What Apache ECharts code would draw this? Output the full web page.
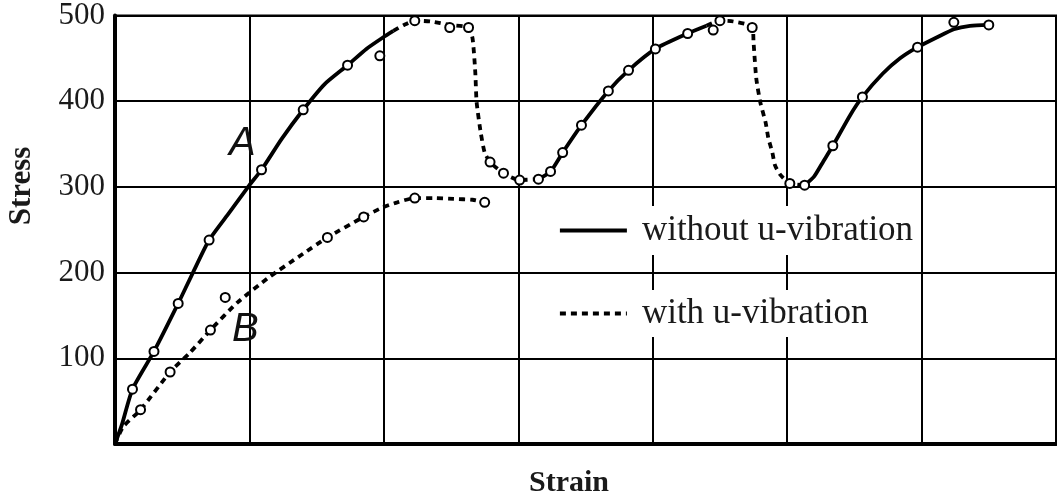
<!DOCTYPE html>
<html>
<head>
<meta charset="utf-8">
<title>Stress–Strain</title>
<script src="https://cdn.jsdelivr.net/npm/echarts@6/dist/echarts.min.js"></script>
<style>
  html, body { margin: 0; padding: 0; background: #fff; }
  #chart { width: 1057px; height: 501px; }
</style>
</head>
<body>
<div id="chart"></div>
<script>
// Stress ticks shown on the vertical axis
const stressTicks = [100, 200, 300, 400, 500];

// Loading curve A, then reloading branches after each vibration pulse (no vibration)
const loadA = [[0,0],[0.05,22],[0.13,64],[0.29,108],[0.47,164],[0.58,200],[0.70,238],[0.85,270],[1.0,302],[1.09,320],[1.24,356],[1.40,390],[1.56,420],[1.73,442],[1.87,461],[1.99,474],[2.07,482]];
const reload1 = [[3.15,309],[3.24,318],[3.33,340],[3.47,372],[3.67,412],[3.82,436],[4.02,461],[4.26,479],[4.40,488]];
const reload2 = [[5.13,302],[5.20,312],[5.27,330],[5.34,348],[5.47,384],[5.56,405],[5.71,432],[5.84,450],[5.97,463],[6.12,475],[6.24,484],[6.36,488],[6.50,489]];

// Branches under ultrasonic vibration: curve B, and the two stress drops
const curveB = [[0,0],[0.06,20],[0.19,40],[0.41,84],[0.56,107],[0.71,133],[0.91,165],[1.15,195],[1.38,220],[1.58,241],[1.85,265],[1.99,276],[2.10,282],[2.23,287],[2.37,287],[2.52,286],[2.66,285],[2.75,282]];
const drop1 = [[2.07,482],[2.15,489],[2.23,494],[2.35,493],[2.49,489],[2.63,486],[2.66,473],[2.68,434],[2.69,399],[2.72,364],[2.75,340],[2.79,329],[2.89,316],[3.01,308],[3.15,309]];
const drop2 = [[4.40,488],[4.50,494],[4.60,493],[4.74,487],[4.75,469],[4.77,427],[4.80,399],[4.84,375],[4.86,357],[4.89,340],[4.91,325],[4.95,314],[5.02,304],[5.13,302]];

// Measured points (open circles)
const pointsNoVib = [[0.13,64],[0.29,108],[0.47,164],[0.70,238],[1.09,320],[1.40,390],[1.73,442],[1.97,453],
                     [3.24,318],[3.33,340],[3.47,372],[3.67,412],[3.82,436],[4.02,461],[4.26,479],
                     [5.34,348],[5.56,405],[5.97,463],[6.50,489]];
const pointsVib = [[0.19,40],[0.41,84],[0.71,133],[0.82,171],[1.58,241],[1.85,265],[2.23,287],[2.75,282],
                   [2.23,494],[2.49,486],[2.63,486],[2.79,329],[2.89,316],[3.01,308],[3.15,309],
                   [4.50,494],[4.45,483],[4.74,486],[5.02,304],[5.13,302],[6.24,492]];

const NAME_SOLID = 'without u-vibration';
const NAME_DASH = 'with u-vibration';
const SERIF = '"Liberation Serif", "Times New Roman", serif';

const solidStyle = { color: '#000', width: 3.8, type: 'solid' };
const dashStyle = { color: '#000', width: 3.8, type: [6, 5] };

function lineSeries(name, data, style) {
  return {
    name, type: 'line', data,
    showSymbol: false, symbol: 'none',
    smooth: 0.2,
    lineStyle: style, itemStyle: { color: '#000' },
    z: 3, animation: false
  };
}

function pointSeries(data) {
  return {
    type: 'scatter', data,
    symbol: 'circle', symbolSize: 9,
    itemStyle: { color: '#ffffff', opacity: 1, borderColor: '#000', borderWidth: 2 },
    z: 4, animation: false, silent: true
  };
}

const chart = echarts.init(document.getElementById('chart'), null, { renderer: 'canvas' });

const legendBase = {
  orient: 'horizontal',
  backgroundColor: '#fff',
  itemWidth: 67, itemHeight: 14,
  selectedMode: false,
  itemStyle: { opacity: 0 },
  lineStyle: { width: 3.8 },
  textStyle: { fontFamily: SERIF, fontSize: 35, color: '#1a1a1a', padding: [0, 0, 0, 10] }
};

chart.setOption({
  animation: false,
  backgroundColor: '#fff',
  grid: { left: 115, right: 1, top: 15, bottom: 57, show: true, borderColor: '#000', borderWidth: 2 },
  xAxis: {
    type: 'value', min: 0, max: 7, interval: 1,
    axisLine: { show: true, lineStyle: { color: '#000', width: 4 } },
    axisTick: { show: false },
    axisLabel: { show: false },
    splitLine: { show: true, lineStyle: { color: '#000', width: 2 } }
  },
  yAxis: {
    type: 'value', min: 0, max: 500, interval: 100,
    axisLine: { show: true, lineStyle: { color: '#000', width: 4 } },
    axisTick: { show: false },
    axisLabel: {
      margin: 10, fontFamily: SERIF, fontSize: 31, color: '#1a1a1a',
      padding: [4, 0, 0, 0],
      formatter: v => (stressTicks.includes(v) ? String(v) : '')
    },
    splitLine: { show: true, lineStyle: { color: '#000', width: 2 } }
  },
  legend: [
    Object.assign({}, legendBase, { data: [NAME_SOLID], left: 550, top: 206, padding: [7, 3, 7, 8] }),
    Object.assign({}, legendBase, { data: [NAME_DASH], left: 550, top: 290, padding: [6, 6, 6, 8] })
  ],
  series: [
    lineSeries(NAME_SOLID, loadA, solidStyle),
    lineSeries(NAME_SOLID, reload1, solidStyle),
    lineSeries(NAME_SOLID, reload2, solidStyle),
    lineSeries(NAME_DASH, curveB, dashStyle),
    lineSeries(NAME_DASH, drop1, dashStyle),
    lineSeries(NAME_DASH, drop2, dashStyle),
    pointSeries(pointsNoVib),
    pointSeries(pointsVib)
  ],
  graphic: [
    { type: 'text', left: 229, top: 124, z: 10,
      style: { text: 'A', font: 'italic 40px "Liberation Sans", Arial, sans-serif', fill: '#111' } },
    { type: 'text', left: 232, top: 310, z: 10,
      style: { text: 'B', font: 'italic 40px "Liberation Sans", Arial, sans-serif', fill: '#111' } },
    { type: 'text', left: 529, top: 468, z: 10,
      style: { text: 'Strain', font: 'bold 30px ' + SERIF, fill: '#1a1a1a' } },
    { type: 'text', x: 22, y: 186, rotation: Math.PI / 2, z: 10,
      style: { text: 'Stress', font: 'bold 31px ' + SERIF, fill: '#1a1a1a', align: 'center', verticalAlign: 'middle' } }
  ]
});
</script>
</body>
</html>
